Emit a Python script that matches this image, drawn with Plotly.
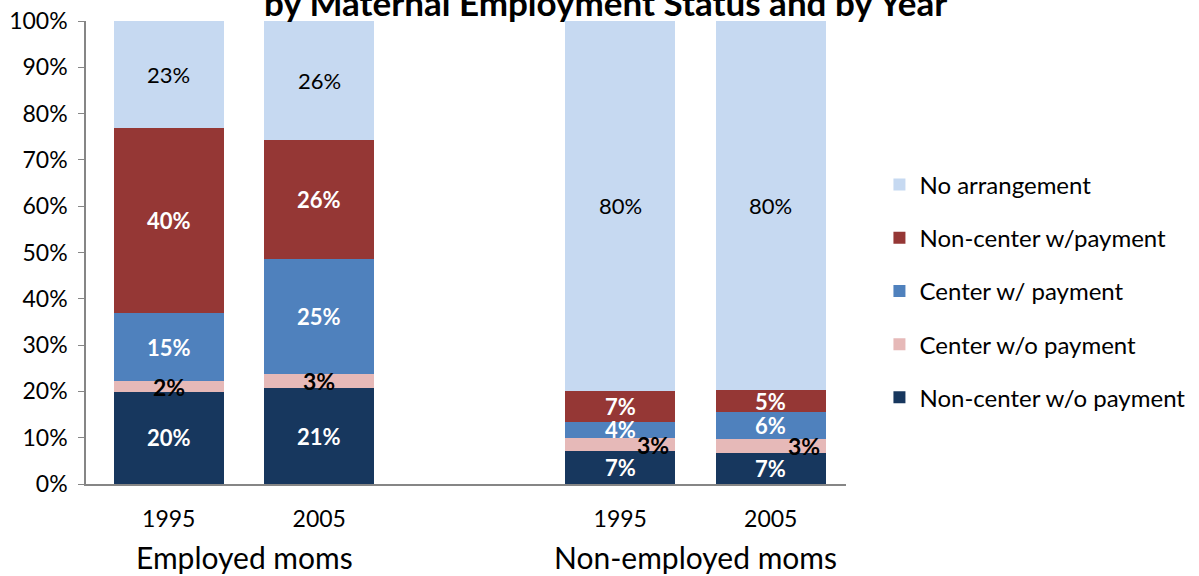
import plotly.graph_objects as go

# data (shares of children, 0..1)
groups = ["Employed moms", "Non-employed moms"]
years = ["1995", "2005"]

series = ["Non-center w/o payment", "Center w/o payment", "Center w/ payment",
          "Non-center w/payment", "No arrangement"]
# order of bars: Employed 1995, Employed 2005, Non-employed 1995, Non-employed 2005
non_center_wo_pay = [0.199, 0.207, 0.071, 0.068]
center_wo_pay = [0.023, 0.031, 0.028, 0.029]
center_w_pay = [0.147, 0.248, 0.036, 0.058]
non_center_w_pay = [0.400, 0.256, 0.066, 0.048]
no_arrangement = [0.231, 0.258, 0.799, 0.797]

values = [non_center_wo_pay, center_wo_pay, center_w_pay, non_center_w_pay, no_arrangement]
colors = ["#17375E", "#E6B9B8", "#4F81BD", "#953735", "#C6D9F1"]
label_colors = ["white", "black", "white", "white", "black"]
label_bold = [True, True, True, True, False]

FONT = "Lato"

# bar x positions: two years per group, one empty slot between groups
xpos = [gi * 3 + yi for gi in range(len(groups)) for yi in range(len(years))]
xlabels = [y for g in groups for y in years]

fig = go.Figure()
for i, (name, vals, col) in enumerate(zip(series, values, colors)):
    fig.add_trace(go.Bar(x=xpos, y=vals, name=name, marker=dict(color=col, line=dict(width=0)),
                         width=0.73, legendgroup=name, legendrank=100 - i, hoverinfo="skip"))

# segment labels
annotations = []
bottoms = [0.0] * len(xpos)
for si, vals in enumerate(values):
    for bi, v in enumerate(vals):
        mid = bottoms[bi] + v / 2
        bottoms[bi] += v
        shift = 0
        if si == 1 and bi >= 2:
            shift = 33
        txt = f"{round(v * 100):.0f}%"
        if label_bold[si]:
            txt = f"<b>{txt}</b>"
        annotations.append(dict(x=xpos[bi], y=mid, text=txt, showarrow=False, xshift=shift,
                                font=dict(family=FONT, size=22 if si != 1 else 23,
                                          color=label_colors[si])))

# group labels under the years
for gi, g in enumerate(groups):
    annotations.append(dict(x=gi * 3 + 0.5, y=0, yref="paper", yanchor="top", yshift=-53,
                            text=g, showarrow=False, font=dict(family=FONT, size=30, color="black")))

# title, cut off at the top like in the reference
annotations.append(dict(x=0.683, xref="paper", xanchor="center", y=1, yref="paper",
                        yanchor="bottom", yshift=-4,
                        text="<b>Child Care Arrangements<br>by Maternal Employment Status and by Year</b>",
                        showarrow=False, font=dict(family=FONT, size=35, color="black")))

fig.update_layout(
    width=1199, height=576,
    margin=dict(l=86, r=353, t=21, b=92, autoexpand=False),
    paper_bgcolor="white", plot_bgcolor="white",
    barmode="stack", bargap=0,
    font=dict(family=FONT, size=18, color="black"),
    showlegend=True,
    legend=dict(traceorder="grouped", tracegroupgap=19, x=1.044, y=0.417, yanchor="middle",
                xanchor="left", font=dict(size=24), itemwidth=30),
    annotations=annotations,
    xaxis=dict(range=[-0.55, 4.5], tickvals=xpos, ticktext=xlabels, showline=True,
               linecolor="#868686", linewidth=2, ticks="", showgrid=False, zeroline=False,
               ticklabelstandoff=13, tickfont=dict(size=23)),
    yaxis=dict(range=[0, 1], dtick=0.1, tickformat=".0%", showline=True, linecolor="#868686",
               linewidth=1.5, ticks="outside", ticklen=6, tickcolor="#868686", showgrid=False,
               zeroline=False, tickfont=dict(size=23), ticklabelstandoff=6),
)

# drop the page's default body margin so the figure sits at the window corner
fig.write_html("out.html", config={"displayModeBar": False},
               post_script="document.body.style.margin = '0';")
